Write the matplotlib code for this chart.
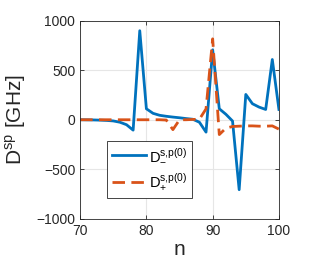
import matplotlib
matplotlib.use("Agg")
import matplotlib.pyplot as plt

# mode number
n = list(range(70, 101))

# D_-^{s,p(0)} in GHz
d_minus = [0, -1, -2, -4, -7, -12, -25, -50, -105, 900,
           111, 65, 45, 35, 27, 20, 12, 5, -25, -125,
           707, 111, 55, -13, -707, 256, 162, 128, 104, 609,
           104]

# D_+^{s,p(0)} in GHz
d_plus = [0, 0, 0, 0, 0, 0, 0, 0, 0, 0,
          0, 0, 0, -3, -100, 0, 0, 3, 5, 110,
          818, -150, -85, -68, -65, -62, -62, -65, -65, -62,
          -95]

xticks = [70, 80, 90, 100]
yticks = [-1000, -500, 0, 500, 1000]

plt.rcParams["font.family"] = ["Liberation Sans", "DejaVu Sans"]
plt.rcParams["mathtext.fontset"] = "custom"
plt.rcParams["mathtext.rm"] = "Liberation Sans"

fig = plt.figure(figsize=(3.27, 2.67), dpi=100)
ax = fig.add_axes([0.245, 0.181, 0.608, 0.741])

ax.plot(n, d_minus, color="#0072BD", lw=2.0,
        label=r"$\mathrm{D}_{-}^{\mathrm{s{,}p(0)}}$")
ax.plot(n, d_plus, color="#D95319", lw=2.0, ls=(0, (4.5, 2.3)),
        label=r"$\mathrm{D}_{+}^{\mathrm{s{,}p(0)}}$")

ax.set_xlim(70, 100)
ax.set_ylim(-1000, 1000)
ax.set_xticks(xticks)
ax.set_yticks(yticks)
ax.grid(True, color="#e6e6e6", lw=0.8)
ax.set_axisbelow(True)
ax.tick_params(direction="in", top=True, right=True, labelsize=10,
               length=3, width=0.6, color="#262626", labelcolor="#262626")
for s in ax.spines.values():
    s.set_linewidth(0.6)
    s.set_color("#262626")

ax.set_xlabel("n", fontsize=15, color="#262626", labelpad=2)
ax.set_ylabel(r"$\mathrm{D}^{\mathrm{sp}}$ [GHz]", fontsize=15, color="#262626",
              labelpad=6)

leg = ax.legend(loc="lower left", bbox_to_anchor=(0.135, 0.105), fontsize=10.5,
                frameon=True, fancybox=False, framealpha=1, edgecolor="#262626",
                handlelength=2.3, handletextpad=0.2, borderpad=0.35,
                labelspacing=0.55, borderaxespad=0)
leg.get_frame().set_linewidth(0.6)

fig.savefig("out.png", dpi=100)
